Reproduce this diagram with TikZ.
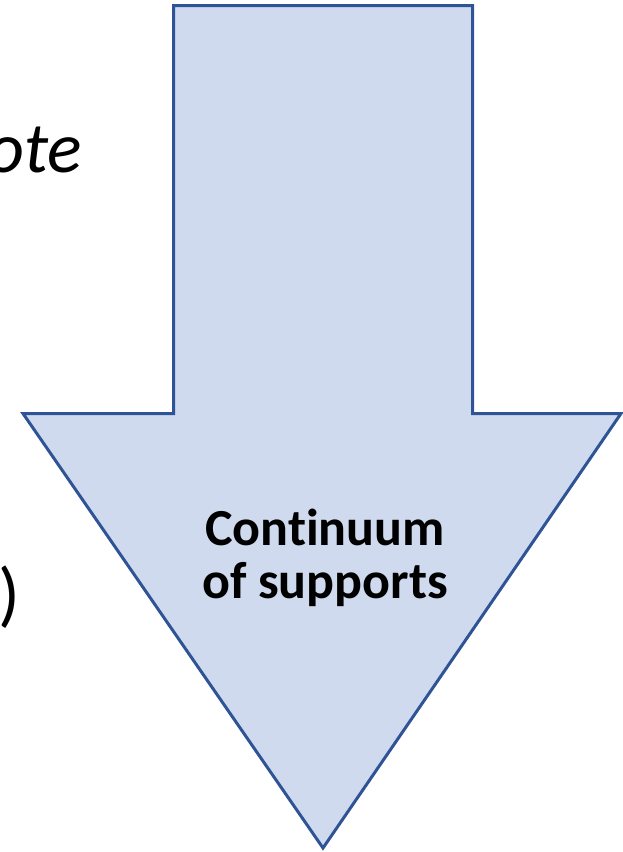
\documentclass[tikz,border=0pt]{standalone}
\usepackage{fontspec}
\setmainfont{Carlito}[Ligatures=NoCommon]
\definecolor{arrowfill}{HTML}{CFDAEE}
\definecolor{arrowedge}{HTML}{2F5496}
\begin{document}
\begin{tikzpicture}[x=1pt,y=-1pt,
  bigarrow/.style={fill=arrowfill,draw=arrowedge,line width=3pt,line join=miter},
  sidetext/.style={inner sep=0pt,font=\fontsize{72}{84}\selectfont},
  label/.style={inner sep=0pt,align=center,font=\fontsize{52}{53}\selectfont\bfseries}]
\useasboundingbox (0,0) rectangle (623,852);
% block arrow pointing down
\draw[bigarrow] (173.5,5.5) -- (472.5,5.5) -- (472.5,413.5) -- (621,413.5)
  -- (323,848) -- (23,413.5) -- (173.5,413.5) -- cycle;
\node[label] (lab) at (325,558) {Continuum\\of supports};
% fragments of text on the left
\node[sidetext,anchor=base east] (ote) at (82,172) {\itshape ote};
\node[sidetext,anchor=base west] (par) at (-2,618) {)};
\end{tikzpicture}
\end{document}
